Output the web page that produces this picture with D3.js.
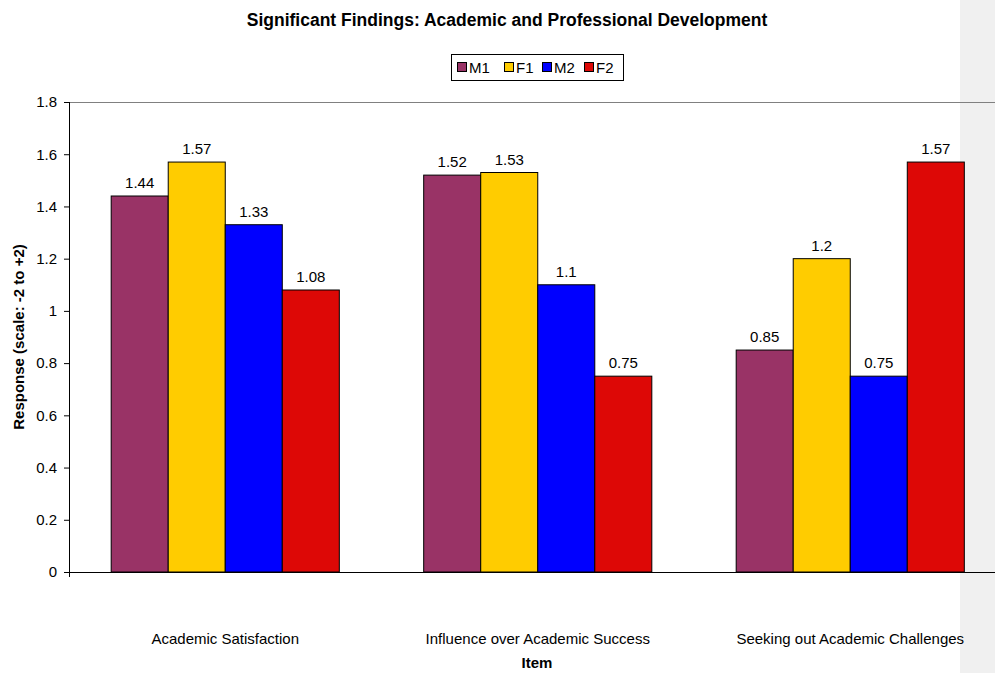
<!DOCTYPE html>
<html>
<head>
<meta charset="utf-8">
<script src="https://d3js.org/d3.v7.min.js"></script>
<style>
  body { margin: 0; background: white; }
  text { font-family: "Liberation Sans", Arial, sans-serif; fill: #000; }
</style>
</head>
<body>
<div id="chart"></div>
<script>
  // data
  var items = ["Academic Satisfaction", "Influence over Academic Success", "Seeking out Academic Challenges"];
  var groups = ["M1", "F1", "M2", "F2"];
  var colors = ["#993366", "#ffcc00", "#0000ff", "#dd0806"];
  var M1 = [1.44, 1.52, 0.85];
  var F1 = [1.57, 1.53, 1.2];
  var M2 = [1.33, 1.1, 0.75];
  var F2 = [1.08, 0.75, 1.57];
  var yTicks = [0, 0.2, 0.4, 0.6, 0.8, 1, 1.2, 1.4, 1.6, 1.8];

  var series = [M1, F1, M2, F2];

  var W = 995, H = 673;
  var margin = {top: 102, left: 69, bottom: 101};
  var plotW = 937.5, plotH = H - margin.top - margin.bottom;

  var svg = d3.select("#chart").append("svg")
    .attr("width", W).attr("height", H);

  // grey strip at the right edge
  svg.append("rect")
    .attr("x", 960).attr("y", 0)
    .attr("width", W - 960).attr("height", H)
    .attr("fill", "#f0f0f0");

  var g = svg.append("g")
    .attr("transform", "translate(" + margin.left + "," + margin.top + ")");

  var x0 = d3.scaleBand().domain(items).range([0, plotW]).paddingInner(0.27).paddingOuter(0.135);
  var x1 = d3.scaleBand().domain(groups).range([0, x0.bandwidth()]);
  var y = d3.scaleLinear().domain([0, 1.8]).range([plotH, 0]);

  // top border of plot area
  g.append("line")
    .attr("x1", 0).attr("x2", W).attr("y1", 0.5).attr("y2", 0.5)
    .attr("stroke", "#808080");

  // bars
  var rows = items.map(function(d, i) {
    return groups.map(function(s, j) { return {item: d, group: s, value: series[j][i], color: colors[j]}; });
  });

  var grp = g.selectAll(".grp").data(rows).enter().append("g")
    .attr("transform", function(d, i) { return "translate(" + x0(items[i]) + ",0)"; });

  grp.selectAll("rect").data(function(d) { return d; }).enter().append("rect")
    .attr("x", function(d) { return x1(d.group); })
    .attr("y", function(d) { return y(d.value); })
    .attr("width", x1.bandwidth())
    .attr("height", function(d) { return plotH - y(d.value); })
    .attr("fill", function(d) { return d.color; })
    .attr("stroke", "#000")
    .attr("stroke-width", 1);

  grp.selectAll(".val").data(function(d) { return d; }).enter().append("text")
    .attr("x", function(d) { return x1(d.group) + x1.bandwidth() / 2; })
    .attr("y", function(d) { return y(d.value) - 8; })
    .attr("text-anchor", "middle")
    .style("font-size", "15px")
    .text(function(d) { return d.value; });

  // y axis
  var yAxis = g.append("g")
    .call(d3.axisLeft(y).tickValues(yTicks).tickSize(5).tickPadding(7).tickFormat(d3.format("")));
  yAxis.selectAll("text").style("font-size", "15px").style("font-family", "Liberation Sans, Arial, sans-serif");
  yAxis.select(".domain").attr("d", "M0.5,0V" + (plotH + 5));
  yAxis.selectAll(".tick line").attr("stroke", "#000");

  // x axis line
  g.append("line")
    .attr("x1", -5).attr("x2", W).attr("y1", plotH + 0.5).attr("y2", plotH + 0.5)
    .attr("stroke", "#000");

  // category labels
  g.selectAll(".cat").data(items).enter().append("text")
    .attr("x", function(d) { return x0(d) + x0.bandwidth() / 2; })
    .attr("y", plotH + 72)
    .attr("text-anchor", "middle")
    .style("font-size", "15px")
    .text(function(d) { return d; });

  // axis titles
  svg.append("text")
    .attr("x", 537).attr("y", 668)
    .attr("text-anchor", "middle")
    .style("font-size", "15px").style("font-weight", "bold")
    .text("Item");
  svg.append("text")
    .attr("transform", "translate(24," + (margin.top + plotH / 2) + ") rotate(-90)")
    .attr("text-anchor", "middle")
    .style("font-size", "15px").style("font-weight", "bold")
    .text("Response (scale: -2 to +2)");

  // title
  svg.append("text")
    .attr("x", 507).attr("y", 26)
    .attr("text-anchor", "middle")
    .style("font-size", "17.5px").style("font-weight", "bold")
    .text("Significant Findings: Academic and Professional Development");

  // legend
  var lg = svg.append("g").attr("transform", "translate(451,54)");
  lg.append("rect").attr("x", 0.5).attr("y", 0.5).attr("width", 172).attr("height", 26)
    .attr("fill", "#fff").attr("stroke", "#000");
  var lx = [6, 53, 91, 133];
  groups.forEach(function(s, j) {
    lg.append("rect").attr("x", lx[j] + 0.5).attr("y", 8.5).attr("width", 9).attr("height", 9)
      .attr("fill", colors[j]).attr("stroke", "#000");
    lg.append("text").attr("x", lx[j] + 12).attr("y", 19)
      .style("font-size", "15px").text(s);
  });
</script>
</body>
</html>
